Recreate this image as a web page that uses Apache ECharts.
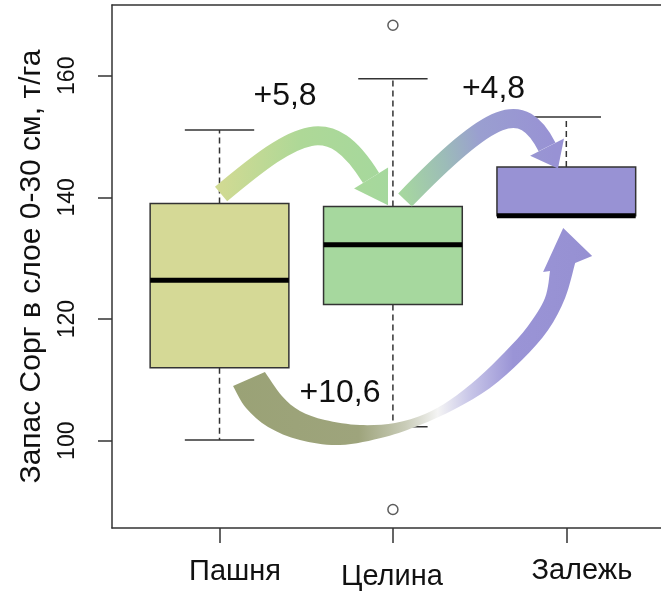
<!DOCTYPE html>
<html>
<head>
<meta charset="utf-8">
<script src="https://cdn.jsdelivr.net/npm/echarts@6/dist/echarts.min.js"></script>
<style>
  html, body { margin: 0; padding: 0; background: #fff; }
  #chart { width: 661px; height: 596px; }
</style>
</head>
<body>
<div id="chart"></div>
<script>
// Soil organic carbon stock (т/га, 0-30 cm) by land use
const categories = ['Пашня', 'Целина', 'Залежь'];
const lowerWhisker = [100.1, 102.3, 137.0];
const q1 = [112.0, 122.4, 137.0];
const median = [126.4, 132.2, 137.0];
const q3 = [139.0, 138.5, 145.0];
const upperWhisker = [151.1, 159.5, 153.2];
// outliers: [category position, value]
const outliers = [[2, 168.3], [2, 88.7]];
const yTicks = [100, 120, 140, 160];
const xTicks = [1, 2, 3];
const boxColors = ['#d5d996', '#a6d89e', '#9892d4'];

// transitions shown as arrows: [from, to] category indices; label = change of median
const transitions = [[0, 1], [1, 2], [0, 2]];

const FONT = '"Liberation Sans", Arial, Helvetica, sans-serif';
const INK = '#333';

// Arrow outlines, in axis units (x: category position, y: т/га)
const arrowShapes = [
  {
    kind: 'bent',
    path: [[1.009, 140.55], [1.464, 151.40], [1.637, 154.04], [1.874, 143.19]],
    width: 19, headLength: 32, headHalf: 20,
    stops: [[0, '#d0da93'], [0.45, '#aed897'], [1, '#a5d89d']],
    label: [1.378, 156.67]
  },
  {
    kind: 'bent',
    path: [[2.070, 139.57], [2.572, 154.36], [2.745, 156.34], [2.889, 148.28]],
    width: 19, headLength: 24, headHalf: 19,
    stops: [[0, '#a6d6a0'], [0.3, '#9cbcb8'], [0.55, '#9a9fd0'], [1, '#9892d4']],
    label: [2.580, 157.82]
  },
  {
    kind: 'swoosh',
    outer: [[1.078, 108.99], [1.153, 105.38], [1.280, 102.26], [1.464, 100.12], [1.695, 99.29],
            [1.954, 100.61], [2.156, 102.58], [2.358, 105.21], [2.560, 108.66], [2.744, 113.27],
            [2.895, 118.20], [2.993, 123.46], [3.051, 129.21]],
    head: [[3.149, 130.36], [2.982, 134.97], [2.866, 127.73]],
    inner: [[2.906, 127.90], [2.877, 123.46], [2.779, 118.86], [2.646, 114.58], [2.491, 110.31],
            [2.329, 106.69], [2.185, 104.39], [2.012, 102.92], [1.810, 102.58], [1.608, 103.41],
            [1.464, 104.89], [1.360, 107.35], [1.262, 111.29]],
    stops: [[0, '#9aa276'], [0.35, '#9ea47c'], [0.48, '#c9ccb8'], [0.57, '#f4f4f4'],
            [0.66, '#c8c6e8'], [0.78, '#9a94d6'], [1, '#9690d2']],
    label: [1.695, 107.8]
  }
];

const boxData = categories.map((c, i) =>
  [i + 1, lowerWhisker[i], q1[i], median[i], q3[i], upperWhisker[i]]);

function fmtDiff(d) {
  return '+' + d.toFixed(1).replace('.', ',');
}

function num(v) { return Math.round(v * 100) / 100; }

function gradient(x0, y0, x1, y1, stops) {
  return {
    type: 'linear', x: x0, y: y0, x2: x1, y2: y1, global: true,
    colorStops: stops.map(s => ({ offset: s[0], color: s[1] }))
  };
}

// Catmull-Rom spline through points, as cubic Bezier segments
function smoothSegments(pts) {
  let d = '';
  for (let i = 0; i < pts.length - 1; i++) {
    const p0 = pts[i - 1] || pts[i], p1 = pts[i], p2 = pts[i + 1], p3 = pts[i + 2] || p2;
    const c1 = [p1[0] + (p2[0] - p0[0]) / 6, p1[1] + (p2[1] - p0[1]) / 6];
    const c2 = [p2[0] - (p3[0] - p1[0]) / 6, p2[1] - (p3[1] - p1[1]) / 6];
    d += ' C ' + num(c1[0]) + ' ' + num(c1[1]) + ' ' + num(c2[0]) + ' ' + num(c2[1]) +
         ' ' + num(p2[0]) + ' ' + num(p2[1]);
  }
  return d;
}

function renderBox(params, api) {
  const x = api.value(0);
  const lo = api.coord([x, api.value(1)]);
  const b1 = api.coord([x, api.value(2)]);
  const md = api.coord([x, api.value(3)]);
  const b3 = api.coord([x, api.value(4)]);
  const hi = api.coord([x, api.value(5)]);
  const w = api.size([0.8, 0])[0];
  const cap = w / 4;
  const cx = lo[0];
  const dash = { stroke: INK, lineWidth: 1.5, lineDash: [6, 4] };
  const solid = { stroke: INK, lineWidth: 1.5 };
  return {
    type: 'group',
    children: [
      { type: 'line', shape: { x1: cx, y1: b3[1], x2: cx, y2: hi[1] }, style: dash },
      { type: 'line', shape: { x1: cx, y1: b1[1], x2: cx, y2: lo[1] }, style: dash },
      { type: 'line', shape: { x1: cx - cap, y1: hi[1], x2: cx + cap, y2: hi[1] }, style: solid },
      { type: 'line', shape: { x1: cx - cap, y1: lo[1], x2: cx + cap, y2: lo[1] }, style: solid },
      {
        type: 'rect',
        shape: { x: cx - w / 2, y: b3[1], width: w, height: b1[1] - b3[1] },
        style: { fill: boxColors[params.dataIndex], stroke: INK, lineWidth: 1.5 }
      },
      { type: 'line', shape: { x1: cx - w / 2, y1: md[1], x2: cx + w / 2, y2: md[1] },
        style: { stroke: '#000', lineWidth: 5 } }
    ]
  };
}

function renderArrow(params, api) {
  const idx = api.value(2);
  const a = arrowShapes[idx];
  const [from, to] = transitions[idx];
  const labelPos = api.coord(a.label);
  const children = [];
  if (a.kind === 'bent') {
    const [p0, c1, c2, p3] = a.path.map(pt => api.coord(pt));
    let dx = p3[0] - c2[0], dy = p3[1] - c2[1];
    const len = Math.hypot(dx, dy);
    dx /= len; dy /= len;
    const tip = [p3[0] + dx * a.headLength, p3[1] + dy * a.headLength];
    const left = [p3[0] - dy * a.headHalf, p3[1] + dx * a.headHalf];
    const right = [p3[0] + dy * a.headHalf, p3[1] - dx * a.headHalf];
    const shaft = 'M ' + num(p0[0]) + ' ' + num(p0[1]) + ' C ' + num(c1[0]) + ' ' + num(c1[1]) +
      ' ' + num(c2[0]) + ' ' + num(c2[1]) + ' ' + num(p3[0]) + ' ' + num(p3[1]);
    children.push({
      type: 'path', shape: { pathData: shaft },
      style: { fill: 'none', stroke: gradient(p0[0], p0[1], tip[0], tip[1], a.stops),
               lineWidth: a.width, lineCap: 'butt' }
    });
    children.push({
      type: 'polygon', shape: { points: [left, tip, right] },
      style: { fill: gradient(p0[0], p0[1], tip[0], tip[1], a.stops) }
    });
  } else {
    const outer = a.outer.map(pt => api.coord(pt));
    const inner = a.inner.map(pt => api.coord(pt));
    const head = a.head.map(pt => api.coord(pt));
    let d = 'M ' + num(outer[0][0]) + ' ' + num(outer[0][1]) + smoothSegments(outer);
    head.forEach(p => { d += ' L ' + num(p[0]) + ' ' + num(p[1]); });
    d += ' L ' + num(inner[0][0]) + ' ' + num(inner[0][1]) + smoothSegments(inner) + ' Z';
    const x0 = outer[0][0], x1 = head[0][0];
    children.push({
      type: 'path', shape: { pathData: d },
      style: { fill: gradient(x0, 0, x1, 0, a.stops), stroke: 'none' }
    });
  }
  children.push({
    type: 'text', x: labelPos[0], y: labelPos[1],
    style: {
      text: fmtDiff(median[to] - median[from]),
      fill: '#111', fontSize: 32, fontFamily: FONT,
      align: 'center', verticalAlign: 'middle'
    }
  });
  return { type: 'group', children };
}

const chart = echarts.init(document.getElementById('chart'), null, { renderer: 'canvas' });

const frameLine = { show: true, lineStyle: { color: INK, width: 1.5 } };

chart.setOption({
  animation: false,
  backgroundColor: '#fff',
  grid: { left: 112, top: 5, right: 0, height: 523 },
  xAxis: [
    {
      type: 'value', min: 0.38, max: 3.546,
      splitLine: { show: false },
      axisLine: frameLine,
      axisTick: { show: true, customValues: xTicks, length: 15, lineStyle: { color: INK, width: 1.5 } },
      axisLabel: {
        customValues: xTicks,
        margin: 29,
        color: '#111', fontSize: 29, fontFamily: FONT,
        formatter: v => {
          const i = Math.round(v) - 1;
          return '{c' + i + '|' + categories[i] + '}';
        },
        rich: {
          c0: { fontSize: 29, fontFamily: FONT, color: '#111', lineHeight: 29, padding: [0, 0, 0, 31] },
          c1: { fontSize: 29, fontFamily: FONT, color: '#111', lineHeight: 39, padding: [0, 2, 0, 0] },
          c2: { fontSize: 29, fontFamily: FONT, color: '#111', lineHeight: 27, padding: [0, 0, 0, 31] }
        }
      }
    },
    {
      // top edge of the plot frame
      type: 'value', position: 'top', min: 0.38, max: 3.546,
      splitLine: { show: false }, axisTick: { show: false }, axisLabel: { show: false },
      axisLine: frameLine
    }
  ],
  yAxis: {
    type: 'value', min: 85.65, max: 171.63,
    splitLine: { show: false },
    axisLine: frameLine,
    axisTick: { show: true, customValues: yTicks, length: 14, lineStyle: { color: INK, width: 1.5 } },
    axisLabel: {
      customValues: yTicks, rotate: 90, margin: 33,
      color: '#111', fontSize: 23, fontFamily: FONT
    },
    name: 'Запас Сорг в слое 0-30 см, т/га',
    nameLocation: 'middle', nameGap: 65,
    nameTextStyle: { color: '#111', fontSize: 30, fontFamily: FONT }
  },
  series: [
    {
      type: 'custom', name: 'boxes', renderItem: renderBox,
      data: boxData, z: 2
    },
    {
      type: 'scatter', name: 'outliers', data: outliers,
      symbol: 'circle', symbolSize: 10,
      itemStyle: { color: 'rgba(255,255,255,0)', borderColor: INK, borderWidth: 1.5 },
      z: 3
    },
    {
      type: 'custom', name: 'arrows', renderItem: renderArrow,
      data: arrowShapes.map((a, i) => [a.label[0], a.label[1], i]), z: 4
    }
  ]
});
</script>
</body>
</html>
